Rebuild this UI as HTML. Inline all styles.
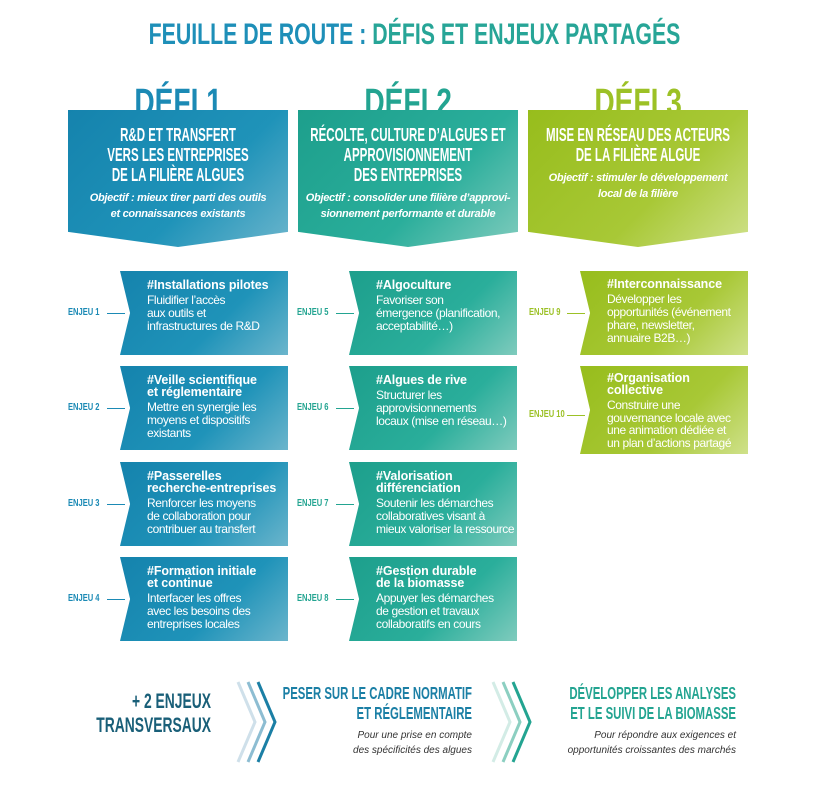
<!DOCTYPE html>
<html><head><meta charset="utf-8"><style>
*{margin:0;padding:0;box-sizing:border-box}
body{width:828px;height:796px;background:#fff;position:relative;overflow:hidden;font-family:"Liberation Sans",sans-serif}
.n{font-family:"Liberation Sans",sans-serif;font-weight:bold;white-space:nowrap}
.s{display:inline-block;white-space:nowrap}
.abs{position:absolute}
.title{left:0;width:828px;top:18px;text-align:center;font-size:30px;color:#1e8fb8}
.title .s{transform:scaleX(.71)}
.defi{font-size:38px;text-align:center;width:220px;top:83px;line-height:40px}
.defi .s{transform:scaleX(.74)}
.hb{top:110px;width:220px;height:137px;clip-path:polygon(0 0,100% 0,100% 89%,50% 100%,0 89%);color:#fff;text-align:center}
.hb .h{font-size:18px;line-height:20px;margin-top:15px;width:344px;margin-left:-62px;transform:scaleX(.64);transform-origin:center}
.hb .o{font-style:italic;font-weight:bold;font-size:11px;line-height:16px;margin-top:5px;letter-spacing:-.3px;white-space:nowrap}
.c1{background:linear-gradient(135deg,#1583ad 0%,#1f93b9 60%,#6bb5cc 100%)}
.c2{background:linear-gradient(135deg,#1d9f8c 0%,#2aae9b 60%,#7fcbbd 100%)}
.c3{background:linear-gradient(135deg,#97bd1c 0%,#a8c836 60%,#cfe18a 100%)}
.card{width:168px;height:84px;clip-path:polygon(0 0,100% 0,100% 100%,0 100%,6% 50%);color:#fff;padding:8px 0 0 27px;white-space:nowrap}
.card b{display:block;font-size:12.5px;line-height:12px;margin-bottom:3px;letter-spacing:-.1px}
.card span{display:block;font-size:12px;line-height:13px;letter-spacing:-.4px}
.ej{font-size:10.5px;width:60px}
.ej .s{transform:scaleX(.72);transform-origin:left}
.ln{height:1px;width:18px}
.bt{font-size:17.5px;line-height:20px;text-align:right;width:400px;transform:scaleX(.65);transform-origin:right}
.bi{font-style:italic;font-size:10px;line-height:15px;text-align:right;color:#333}
</style></head><body>
<div class="abs title n"><span class="s">FEUILLE DE ROUTE : <span style="color:#27a597">DÉFIS ET ENJEUX PARTAGÉS</span></span></div>

<div class="abs defi n" style="left:68px;color:#1b8ab5"><span class="s">DÉFI 1</span></div>
<div class="abs defi n" style="left:298px;color:#23a491"><span class="s">DÉFI 2</span></div>
<div class="abs defi n" style="left:528px;color:#9cc126"><span class="s">DÉFI 3</span></div>

<div class="abs hb c1" style="left:68px"><div class="h n">R&amp;D ET TRANSFERT<br>VERS LES ENTREPRISES<br>DE LA FILIÈRE ALGUES</div><div class="o">Objectif : mieux tirer parti des outils<br>et connaissances existants</div></div>
<div class="abs hb c2" style="left:298px"><div class="h n">RÉCOLTE, CULTURE D’ALGUES ET<br>APPROVISIONNEMENT<br>DES ENTREPRISES</div><div class="o">Objectif : consolider une filière d’approvi-<br>sionnement performante et durable</div></div>
<div class="abs hb c3" style="left:528px"><div class="h n">MISE EN RÉSEAU DES ACTEURS<br>DE LA FILIÈRE ALGUE</div><div class="o">Objectif : stimuler le développement<br>local de la filière</div></div>

<div class="abs card c1" style="left:120px;top:271px"><b>#Installations pilotes</b><span>Fluidifier l’accès<br>aux outils et<br>infrastructures de R&amp;D</span></div>
<div class="abs card c1" style="left:120px;top:366px"><b>#Veille scientifique<br>et réglementaire</b><span>Mettre en synergie les<br>moyens et dispositifs<br>existants</span></div>
<div class="abs card c1" style="left:120px;top:462px"><b>#Passerelles<br>recherche-entreprises</b><span>Renforcer les moyens<br>de collaboration pour<br>contribuer au transfert</span></div>
<div class="abs card c1" style="left:120px;top:557px"><b>#Formation initiale<br>et continue</b><span>Interfacer les offres<br>avec les besoins des<br>entreprises locales</span></div>
<div class="abs card c2" style="left:349px;top:271px"><b>#Algoculture</b><span>Favoriser son<br>émergence (planification,<br>acceptabilité…)</span></div>
<div class="abs card c2" style="left:349px;top:366px"><b>#Algues de rive</b><span>Structurer les<br>approvisionnements<br>locaux (mise en réseau…)</span></div>
<div class="abs card c2" style="left:349px;top:462px"><b>#Valorisation<br>différenciation</b><span>Soutenir les démarches<br>collaboratives visant à<br>mieux valoriser la ressource</span></div>
<div class="abs card c2" style="left:349px;top:557px"><b>#Gestion durable<br>de la biomasse</b><span>Appuyer les démarches<br>de gestion et travaux<br>collaboratifs en cours</span></div>
<div class="abs card c3" style="left:580px;top:271px;padding-top:7px"><b>#Interconnaissance</b><span>Développer les<br>opportunités (événement<br>phare, newsletter,<br>annuaire B2B…)</span></div>
<div class="abs card c3" style="left:580px;top:366px;padding-top:6px;height:88px"><b>#Organisation<br>collective</b><span style="line-height:12.5px">Construire une<br>gouvernance locale avec<br>une animation dédiée et<br>un plan d’actions partagé</span></div>

<div class="abs ej n" style="left:68px;top:306px;color:#1b8ab5"><span class="s">ENJEU 1</span></div><div class="abs ln" style="left:107px;top:313px;background:#1b8ab5"></div>
<div class="abs ej n" style="left:68px;top:401px;color:#1b8ab5"><span class="s">ENJEU 2</span></div><div class="abs ln" style="left:107px;top:408px;background:#1b8ab5"></div>
<div class="abs ej n" style="left:68px;top:497px;color:#1b8ab5"><span class="s">ENJEU 3</span></div><div class="abs ln" style="left:107px;top:504px;background:#1b8ab5"></div>
<div class="abs ej n" style="left:68px;top:592px;color:#1b8ab5"><span class="s">ENJEU 4</span></div><div class="abs ln" style="left:107px;top:599px;background:#1b8ab5"></div>
<div class="abs ej n" style="left:297px;top:306px;color:#23a491"><span class="s">ENJEU 5</span></div><div class="abs ln" style="left:336px;top:313px;background:#23a491"></div>
<div class="abs ej n" style="left:297px;top:401px;color:#23a491"><span class="s">ENJEU 6</span></div><div class="abs ln" style="left:336px;top:408px;background:#23a491"></div>
<div class="abs ej n" style="left:297px;top:497px;color:#23a491"><span class="s">ENJEU 7</span></div><div class="abs ln" style="left:336px;top:504px;background:#23a491"></div>
<div class="abs ej n" style="left:297px;top:592px;color:#23a491"><span class="s">ENJEU 8</span></div><div class="abs ln" style="left:336px;top:599px;background:#23a491"></div>
<div class="abs ej n" style="left:529px;top:306px;color:#9cc126"><span class="s">ENJEU 9</span></div><div class="abs ln" style="left:567px;top:313px;background:#9cc126"></div>
<div class="abs ej n" style="left:529px;top:408px;color:#9cc126"><span class="s">ENJEU 10</span></div><div class="abs ln" style="left:567px;top:415px;background:#9cc126"></div>

<div class="abs bt n" style="left:-189px;top:690px;font-size:21px;line-height:24px;color:#195f78;transform:scaleX(.66)">+ 2 ENJEUX<br>TRANSVERSAUX</div>
<svg class="abs" style="left:235px;top:680px" width="48" height="84"><g fill="none" stroke-width="3"><polyline points="3,2 20,42 3,82" stroke="#cfe0ea"/><polyline points="13,2 30,42 13,82" stroke="#8dbdd2"/><polyline points="23,2 40,42 23,82" stroke="#1b7fa5"/></g></svg>
<div class="abs bt n" style="left:72px;top:683px;color:#1b7fa5">PESER SUR LE CADRE NORMATIF<br>ET RÉGLEMENTAIRE</div>
<div class="abs bi" style="left:270px;width:202px;top:728px">Pour une prise en compte<br>des spécificités des algues</div>
<svg class="abs" style="left:490px;top:680px" width="48" height="84"><g fill="none" stroke-width="3"><polyline points="3,2 20,42 3,82" stroke="#d3ece6"/><polyline points="13,2 30,42 13,82" stroke="#8ccfc1"/><polyline points="23,2 40,42 23,82" stroke="#23a491"/></g></svg>
<div class="abs bt n" style="left:336px;top:683px;color:#23a491">DÉVELOPPER LES ANALYSES<br>ET LE SUIVI DE LA BIOMASSE</div>
<div class="abs bi" style="left:500px;width:236px;top:728px">Pour répondre aux exigences et<br>opportunités croissantes des marchés</div>
</body></html>
